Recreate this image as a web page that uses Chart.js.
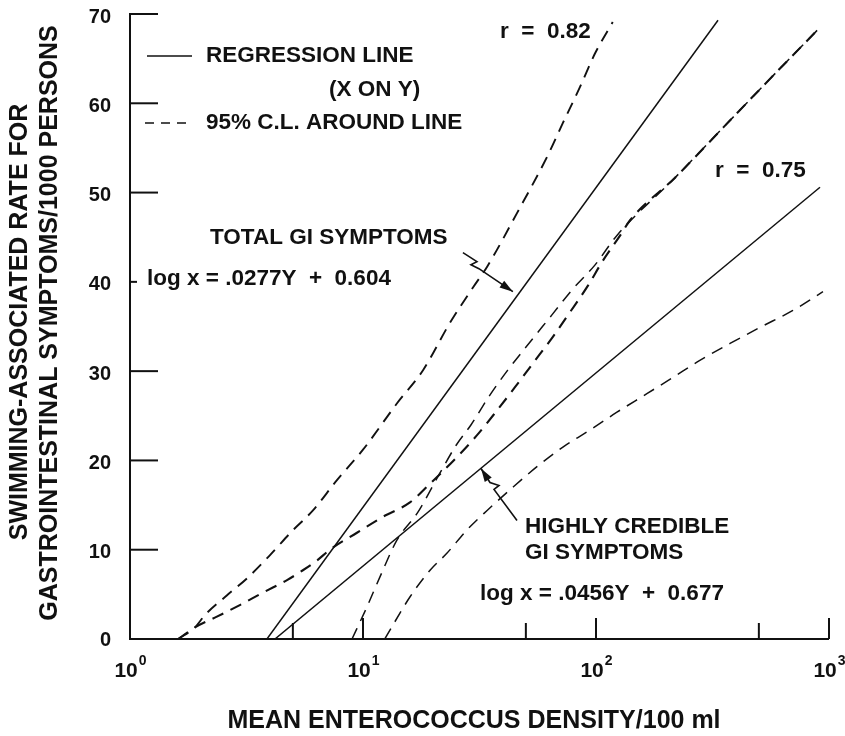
<!DOCTYPE html>
<html>
<head>
<meta charset="utf-8">
<script src="https://cdn.jsdelivr.net/npm/chart.js@4.4.1/dist/chart.umd.min.js"></script>
<style>
  html, body { margin: 0; padding: 0; background: #fff; }
</style>
</head>
<body>
<canvas id="chart" width="845" height="736"></canvas>
<script>
// tick values
const rateTicks = [10, 20, 30, 40, 50, 60, 70];
const densityMajor = [1, 10, 100, 1000];
const densityExp = ['0', '1', '2', '3'];
const densityMinor = [5, 50, 500];

// total GI symptoms (r = 0.82)
const totalRegDensity = [3.87, 334];
const totalRegRate = [0, 69.3];
const totalLeftDensity = [1.61, 1.9, 2.1, 2.61, 3.18, 3.99, 5.01, 6.1, 7.73, 10.0, 14.0, 18.1, 23.6, 29.7, 34.1, 45.8, 62.2, 72.1, 85.3, 99.1, 118];
const totalLeftRate = [0, 1.3, 2.7, 4.9, 6.8, 9.4, 12.2, 14.4, 17.8, 21.2, 26.4, 30.1, 35.4, 39.4, 41.7, 47.7, 54.2, 57.8, 61.8, 65.6, 69.1];
const totalRightDensity = [8.97, 10.4, 11.8, 14.0, 17.1, 21.4, 25.1, 29.1, 34.8, 41.5, 51.5, 64.7, 78.9, 99.1, 123, 219, 352, 566, 915];
const totalRightRate = [0, 3.6, 6.9, 11.1, 14.1, 18.6, 21.7, 24.0, 27.2, 30.0, 33.1, 36.3, 39.1, 41.9, 45.2, 51.7, 57.3, 62.9, 68.5];

// highly credible GI symptoms (r = 0.75)
const credRegDensity = [4.19, 915];
const credRegRate = [0, 50.6];
const credLeftDensity = [1.61, 1.9, 2.36, 2.96, 3.72, 4.72, 5.52, 6.35, 7.21, 9.42, 12.2, 15.9, 19.4, 24.5, 30.8, 37.6, 44.9, 53.7, 64.7, 77.3, 92.5, 106, 127, 140, 219, 352, 566, 915];
const credLeftRate = [0, 1.3, 2.5, 3.8, 5.2, 6.6, 7.7, 8.8, 10.0, 11.9, 13.7, 15.3, 17.4, 20.0, 22.8, 25.6, 28.2, 30.9, 33.7, 36.6, 39.6, 42.2, 45.2, 46.9, 51.7, 57.3, 62.9, 68.5];
const credRightDensity = [12.4, 15.9, 19.4, 22.9, 27.9, 34.1, 44.0, 55.8, 72.1, 94.2, 123, 166, 214, 279, 376, 506, 700, 942];
const credRightRate = [0, 4.7, 7.7, 9.6, 12.2, 14.4, 17.0, 19.3, 21.5, 23.4, 25.4, 27.5, 29.3, 31.2, 33.1, 34.9, 36.8, 38.9];

const FONT = '"Liberation Sans", Arial, Helvetica, sans-serif';

function pts(xs, ys) {
    return xs.map((x, i) => ({ x: x, y: ys[i] }));
}

function solid(xs, ys) {
    return { data: pts(xs, ys), showLine: true, borderColor: '#111', borderWidth: 1.5, pointRadius: 0 };
}

function dashed(xs, ys, w) {
    return {
        data: pts(xs, ys), showLine: true, borderColor: '#111', borderWidth: w,
        borderDash: [12, 8], pointRadius: 0, cubicInterpolationMode: 'monotone'
    };
}

function arrow(ctx, tip, path) {
    ctx.beginPath();
    ctx.moveTo(tip.x + path[0][0], tip.y + path[0][1]);
    for (let i = 1; i < path.length; i++) ctx.lineTo(tip.x + path[i][0], tip.y + path[i][1]);
    ctx.lineTo(tip.x, tip.y);
    ctx.stroke();
    const last = path[path.length - 1];
    const ang = Math.atan2(-last[1], -last[0]);
    ctx.beginPath();
    ctx.moveTo(tip.x, tip.y);
    ctx.lineTo(tip.x - 14 * Math.cos(ang - 0.3), tip.y - 14 * Math.sin(ang - 0.3));
    ctx.lineTo(tip.x - 14 * Math.cos(ang + 0.3), tip.y - 14 * Math.sin(ang + 0.3));
    ctx.closePath();
    ctx.fill();
}

const paperPlugin = {
    id: 'paper',
    afterDraw(chart) {
        const ctx = chart.ctx;
        const xs = chart.scales.x;
        const ys = chart.scales.y;
        const area = chart.chartArea;
        ctx.save();
        ctx.strokeStyle = '#111';
        ctx.fillStyle = '#111';
        ctx.lineWidth = 2;

        // axes
        ctx.beginPath();
        ctx.moveTo(area.left, ys.getPixelForValue(70) - 1);
        ctx.lineTo(area.left, area.bottom);
        ctx.lineTo(area.right, area.bottom);
        ctx.stroke();

        // y ticks and labels
        ctx.font = 'bold 20px ' + FONT;
        ctx.textAlign = 'right';
        ctx.textBaseline = 'middle';
        ctx.fillText('0', area.left - 19, area.bottom + 1);
        rateTicks.forEach(v => {
            const y = ys.getPixelForValue(v);
            ctx.beginPath();
            ctx.moveTo(area.left, y);
            ctx.lineTo(area.left + 28, y);
            ctx.stroke();
            ctx.fillText(String(v), area.left - 19, y + 3);
        });

        // x ticks
        densityMajor.forEach(v => {
            const x = xs.getPixelForValue(v);
            ctx.beginPath();
            ctx.moveTo(x, area.bottom);
            ctx.lineTo(x, area.bottom - 21);
            ctx.stroke();
        });
        densityMinor.forEach(v => {
            const x = xs.getPixelForValue(v);
            ctx.beginPath();
            ctx.moveTo(x, area.bottom);
            ctx.lineTo(x, area.bottom - 16);
            ctx.stroke();
        });

        // x tick labels 10^n
        ctx.textAlign = 'left';
        densityMajor.forEach((v, i) => {
            const x = xs.getPixelForValue(v);
            ctx.font = 'bold 21px ' + FONT;
            const w1 = ctx.measureText('10').width;
            ctx.font = 'bold 14px ' + FONT;
            const w2 = ctx.measureText(densityExp[i]).width;
            const left = x - (w1 + w2) / 2;
            ctx.font = 'bold 21px ' + FONT;
            ctx.fillText('10', left, area.bottom + 32);
            ctx.font = 'bold 14px ' + FONT;
            ctx.fillText(densityExp[i], left + w1 + 1, area.bottom + 22);
        });

        // axis titles
        ctx.font = 'bold 25px ' + FONT;
        ctx.textAlign = 'center';
        ctx.fillText('MEAN ENTEROCOCCUS DENSITY/100 ml', 474, 721);
        ctx.save();
        ctx.translate(20, 322);
        ctx.rotate(-Math.PI / 2);
        ctx.fillText('SWIMMING-ASSOCIATED RATE FOR', 0, 0);
        ctx.restore();
        ctx.save();
        ctx.translate(50, 323);
        ctx.rotate(-Math.PI / 2);
        ctx.fillText('GASTROINTESTINAL SYMPTOMS/1000 PERSONS', 0, 0);
        ctx.restore();

        // legend
        ctx.lineWidth = 1.4;
        ctx.beginPath();
        ctx.moveTo(147, 56);
        ctx.lineTo(192, 56);
        ctx.stroke();
        ctx.setLineDash([9, 7]);
        ctx.beginPath();
        ctx.moveTo(145, 123);
        ctx.lineTo(193, 123);
        ctx.stroke();
        ctx.setLineDash([]);
        ctx.font = 'bold 22.5px ' + FONT;
        ctx.textAlign = 'left';
        ctx.fillText('REGRESSION LINE', 206, 56);
        ctx.fillText('(X ON Y)', 329, 90);
        ctx.fillText('95% C.L. AROUND LINE', 206, 123);

        // annotations
        ctx.fillText('r  =  0.82', 500, 32);
        ctx.fillText('r  =  0.75', 715, 171);
        ctx.fillText('TOTAL GI SYMPTOMS', 210, 238);
        ctx.fillStyle = '#fff';
        ctx.fillRect(137, 265, 262, 27);
        ctx.fillStyle = '#111';
        ctx.fillText('log x = .0277Y  +  0.604', 147, 279);
        ctx.fillText('HIGHLY CREDIBLE', 525, 527);
        ctx.fillText('GI SYMPTOMS', 525, 553);
        ctx.fillText('log x = .0456Y  +  0.677', 480, 594);

        // arrows, tips sit on the regression lines
        ctx.lineWidth = 1.6;
        const tip1 = { x: xs.getPixelForValue(44), y: ys.getPixelForValue(38.9) };
        arrow(ctx, tip1, [[-50, -39], [-36, -30], [-42, -27], [-34, -23]]);
        const tip2 = { x: xs.getPixelForValue(32.1), y: ys.getPixelForValue(19.1) };
        arrow(ctx, tip2, [[36, 52], [13, 21], [18, 17], [9, 14]]);

        ctx.restore();
    }
};

new Chart(document.getElementById('chart'), {
    type: 'scatter',
    data: {
        datasets: [
            solid(totalRegDensity, totalRegRate),
            dashed(totalLeftDensity, totalLeftRate, 1.9),
            dashed(totalRightDensity, totalRightRate, 1.5),
            solid(credRegDensity, credRegRate),
            dashed(credLeftDensity, credLeftRate, 2.1),
            dashed(credRightDensity, credRightRate, 1.5)
        ]
    },
    options: {
        responsive: false,
        animation: false,
        layout: { padding: { left: 130, right: 16, top: 14, bottom: 97 } },
        plugins: { legend: { display: false }, tooltip: { enabled: false } },
        scales: {
            x: { type: 'logarithmic', min: 1, max: 1000, display: false },
            y: { type: 'linear', min: 0, max: 70, display: false }
        }
    },
    plugins: [paperPlugin]
});
</script>
</body>
</html>
